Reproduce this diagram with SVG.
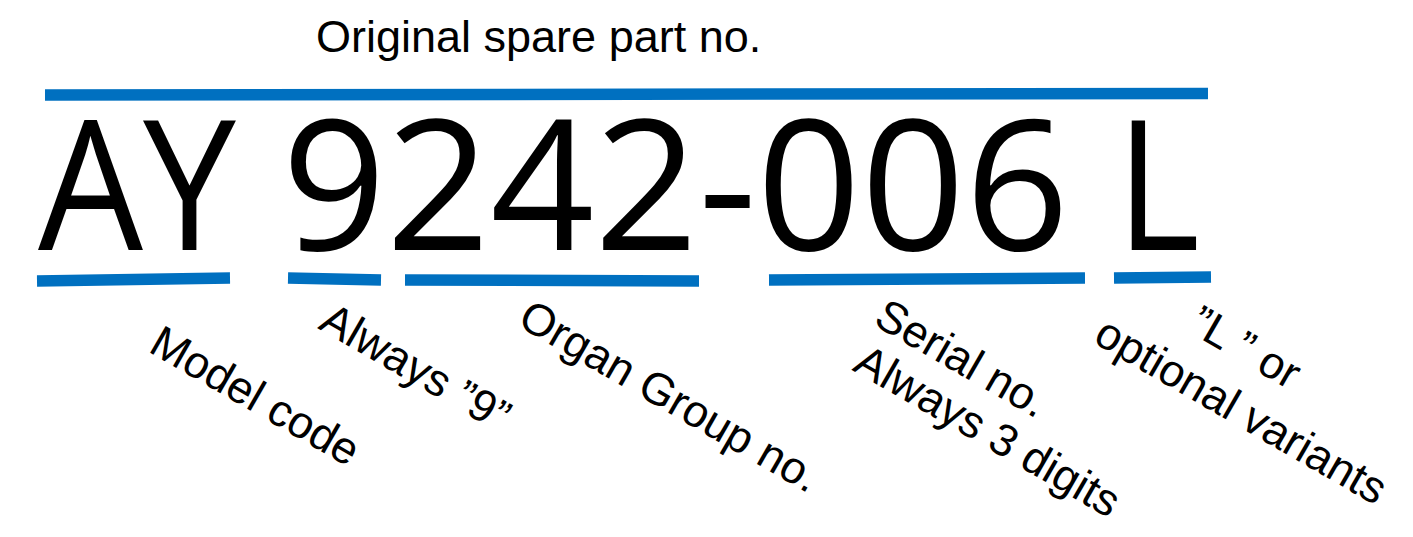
<svg xmlns="http://www.w3.org/2000/svg" width="1413" height="537" viewBox="0 0 1413 537">
<style>
.bar{stroke:#0070C0;stroke-width:11.5;stroke-linecap:butt;fill:none}
.big{font-family:"Open Sans","Liberation Sans",sans-serif;font-size:182px;fill:#000}
.lbl{font-family:"Liberation Sans",Arial,sans-serif;font-size:45px;fill:#000}
</style>
<rect width="1413" height="537" fill="#fff"/>
<g id="title"><text class="lbl" x="316" y="52">Original spare part no.</text></g>
<g id="lines">
<line class="bar" x1="45" y1="95" x2="1208" y2="93.5"/>
<line class="bar" x1="37" y1="281" x2="230" y2="278"/>
<line class="bar" x1="288" y1="278" x2="381" y2="280"/>
<line class="bar" x1="405" y1="280" x2="699" y2="281"/>
<line class="bar" x1="769" y1="280" x2="1085" y2="278"/>
<line class="bar" x1="1114" y1="278" x2="1211" y2="277"/>
</g>
<g id="partno">
<text class="big" x="38" y="250" textLength="198" lengthAdjust="spacingAndGlyphs">AY</text>
<text class="big" x="282" y="250">9242-006</text>
<text class="big" x="1116" y="250" textLength="84" lengthAdjust="spacingAndGlyphs">L</text>
</g>
<g id="label-model"><text class="lbl" transform="translate(147,351) rotate(30)">Model code</text></g>
<g id="label-always9"><text class="lbl" transform="translate(317,328) rotate(30)">Always ”9”</text></g>
<g id="label-organ"><text class="lbl" transform="translate(516,325) rotate(30)">Organ Group no.</text></g>
<g id="label-serial"><text class="lbl" transform="translate(872,324) rotate(30)"><tspan x="0" y="0">Serial no.</tspan><tspan x="5" y="50">Always 3 digits</tspan></text></g>
<g id="label-variant"><text class="lbl" transform="translate(1187,331) rotate(30)"><tspan x="0" y="0">”L ” or</tspan><tspan x="-77" y="57">optional variants</tspan></text></g>
</svg>
